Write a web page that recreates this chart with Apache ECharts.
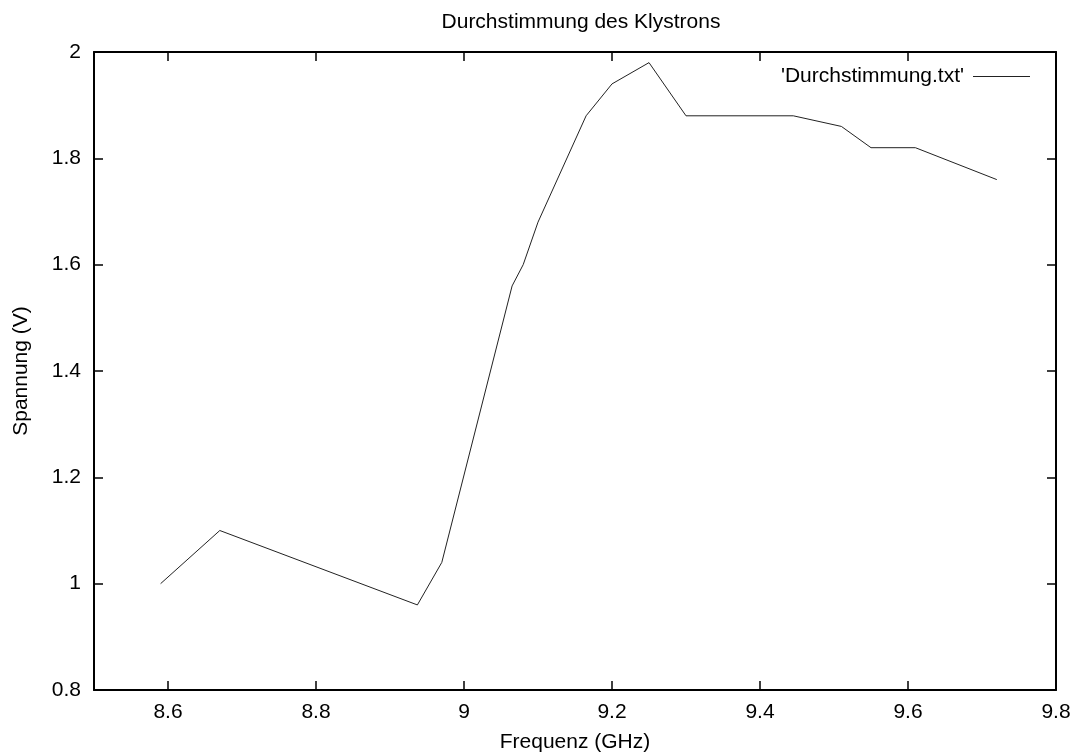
<!DOCTYPE html>
<html>
<head>
<meta charset="utf-8">
<script src="https://cdn.jsdelivr.net/npm/echarts@6/dist/echarts.min.js"></script>
<style>
html,body{margin:0;padding:0;background:#fff;}
#chart{width:1072px;height:755px;}
</style>
</head>
<body>
<div id="chart"></div>
<script>
var titleText = "Durchstimmung des Klystrons";
var seriesName = "'Durchstimmung.txt'";
var xName = "Frequenz (GHz)";
var yName = "Spannung (V)";
var freq = [8.59, 8.67, 8.937, 8.97, 9.065, 9.08, 9.1, 9.165, 9.2, 9.25, 9.3, 9.445, 9.51, 9.55, 9.61, 9.72];
var volt = [1.0, 1.10, 0.96, 1.04, 1.56, 1.60, 1.68, 1.88, 1.94, 1.98, 1.88, 1.88, 1.86, 1.82, 1.82, 1.76];
var xTicks = [8.6, 8.8, 9.0, 9.2, 9.4, 9.6, 9.8];
var yTicks = [0.8, 1.0, 1.2, 1.4, 1.6, 1.8, 2.0];

var FONT = "'Liberation Sans', Arial, Helvetica, sans-serif";
var FS = 21;
var chart = echarts.init(document.getElementById('chart'));
var data = freq.map(function (f, i) { return [f, volt[i]]; });
function fmt(v) { return String(Math.round(v * 10) / 10); }

var axisLine = { show: true, onZero: false, lineStyle: { color: '#000', width: 2 } };
var tick = function (vals) {
  return { show: true, inside: true, length: 9, customValues: vals, lineStyle: { color: '#000', width: 1.5 } };
};

chart.setOption({
  animation: false,
  backgroundColor: '#fff',
  title: {
    text: titleText,
    left: 576, top: 7, textAlign: 'center',
    textStyle: { fontFamily: FONT, fontSize: FS, fontWeight: 'normal', color: '#000' }
  },
  legend: {
    data: [seriesName],
    right: 37, top: 61,
    align: 'right',
    icon: 'rect',
    itemWidth: 57, itemHeight: 1,
    itemGap: 8,
    textStyle: { fontFamily: FONT, fontSize: FS, color: '#000', padding: [0, 4, 0, 0] }
  },
  grid: { left: 94, right: 16, top: 52, bottom: 65, containLabel: false, outerBoundsMode: 'none' },
  xAxis: [{
    type: 'value', min: 8.5, max: 9.8, position: 'bottom',
    name: xName, nameLocation: 'middle', nameGap: 42,
    nameTextStyle: { fontFamily: FONT, fontSize: FS, color: '#000' },
    axisLine: axisLine,
    axisTick: tick(xTicks),
    axisLabel: { customValues: xTicks, formatter: fmt, fontFamily: FONT, fontSize: FS, color: '#000', margin: 12 },
    splitLine: { show: false }
  }, {
    type: 'value', min: 8.5, max: 9.8, position: 'top',
    axisLine: axisLine,
    axisTick: tick(xTicks),
    axisLabel: { show: false, customValues: xTicks },
    splitLine: { show: false }
  }],
  yAxis: [{
    type: 'value', min: 0.8, max: 2.0, position: 'left',
    name: yName, nameLocation: 'middle', nameGap: 62, nameRotate: 90,
    nameTextStyle: { fontFamily: FONT, fontSize: FS, color: '#000' },
    axisLine: axisLine,
    axisTick: tick(yTicks),
    axisLabel: { customValues: yTicks, formatter: fmt, fontFamily: FONT, fontSize: FS, color: '#000', margin: 13 },
    splitLine: { show: false }
  }, {
    type: 'value', min: 0.8, max: 2.0, position: 'right',
    axisLine: axisLine,
    axisTick: tick(yTicks),
    axisLabel: { show: false, customValues: yTicks },
    splitLine: { show: false }
  }],
  series: [{
    name: seriesName,
    type: 'line',
    data: data,
    xAxisIndex: 0, yAxisIndex: 0,
    symbol: 'none',
    color: '#222',
    lineStyle: { color: '#222', width: 1 }
  }]
});
</script>
</body>
</html>
